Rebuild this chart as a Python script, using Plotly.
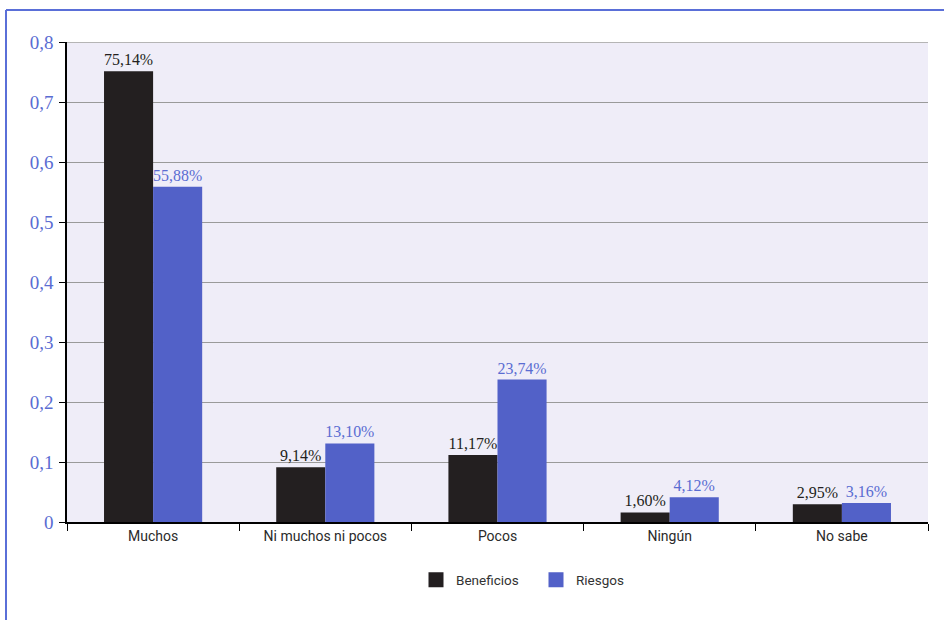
import plotly.graph_objects as go

categories = ["Muchos", "Ni muchos ni pocos", "Pocos", "Ningún", "No sabe"]
beneficios = [0.7514, 0.0914, 0.1117, 0.0160, 0.0295]
riesgos = [0.5588, 0.1310, 0.2374, 0.0412, 0.0316]
y_ticks = [0, 0.1, 0.2, 0.3, 0.4, 0.5, 0.6, 0.7, 0.8]
y_tick_labels = ["0", "0,1", "0,2", "0,3", "0,4", "0,5", "0,6", "0,7", "0,8"]

BLACK = "#231f20"
BLUE = "#5261c8"
LABEL_BLUE = "#5a6cd2"
SERIF = "Liberation Serif, Times New Roman, serif"
SANS = "Roboto, sans-serif"


def pct(v):
    return f"{v * 100:.2f}%".replace(".", ",")


fig = go.Figure()
fig.add_trace(go.Bar(
    x=categories, y=beneficios, name="Beneficios", showlegend=False,
    marker=dict(color=BLACK, line=dict(width=0)),
    text=[pct(v) for v in beneficios], textposition="outside",
    textfont=dict(family=SERIF, size=16, color=BLACK),
    cliponaxis=False,
))
fig.add_trace(go.Bar(
    x=categories, y=riesgos, name="Riesgos", showlegend=False,
    marker=dict(color=BLUE, line=dict(width=0)),
    text=[pct(v) for v in riesgos], textposition="outside",
    textfont=dict(family=SERIF, size=16, color=LABEL_BLUE),
    cliponaxis=False,
))

# legend entries with larger square swatches
for name, color in [("Beneficios", BLACK), ("Riesgos", BLUE)]:
    fig.add_trace(go.Scatter(
        x=[None], y=[None], mode="markers", name=name,
        marker=dict(symbol="square", size=15, color=color),
    ))

# outer frame (top and left edges)
L, R, T, B = 67, 16, 42, 98
W, H = 944, 620
pw, ph = W - L - R, H - T - B


def px(x):
    return (x - L) / pw


def py(y):
    return (H - B - y) / ph


frame = dict(color="#5a6fd8", width=2)
fig.add_shape(type="line", xref="paper", yref="paper",
              x0=px(6), x1=px(944), y0=py(10), y1=py(10), line=frame)
fig.add_shape(type="line", xref="paper", yref="paper",
              x0=px(6), x1=px(6), y0=py(10), y1=py(620), line=frame)
# top gridline at the end of the value range
fig.add_shape(type="line", xref="paper", yref="y",
              x0=0, x1=1, y0=0.8, y1=0.8, line=dict(color="#b5b5b5", width=2))

fig.update_layout(
    width=W, height=H,
    margin=dict(l=L, r=R, t=T, b=B),
    paper_bgcolor="white",
    plot_bgcolor="#efedf8",
    barmode="group",
    bargap=0.43,
    bargroupgap=0,
    showlegend=True,
    legend=dict(
        orientation="h", x=px(416), xanchor="left", y=py(580), yanchor="middle",
        font=dict(family=SANS, size=13.5, color="#333333"),
        itemwidth=30, traceorder="normal",
        entrywidth=75, entrywidthmode="pixels",
    ),
    xaxis=dict(
        showline=True, linecolor="black", linewidth=1.5,
        ticks="outside", tickson="boundaries", ticklen=7, tickcolor="black",
        tickfont=dict(family=SANS, size=14, color="#2a2a2a"),
        showgrid=False,
    ),
    yaxis=dict(
        range=[0, 0.8], tickvals=y_ticks, ticktext=y_tick_labels,
        showline=True, linecolor="black", linewidth=1.5,
        ticks="outside", ticklen=6, tickcolor="black",
        tickfont=dict(family=SERIF, size=19, color=LABEL_BLUE),
        ticklabelstandoff=2,
        showgrid=True, gridcolor="#9a9a9a", gridwidth=1,
        zeroline=False,
    ),
)

fig.write_html("out.html")
